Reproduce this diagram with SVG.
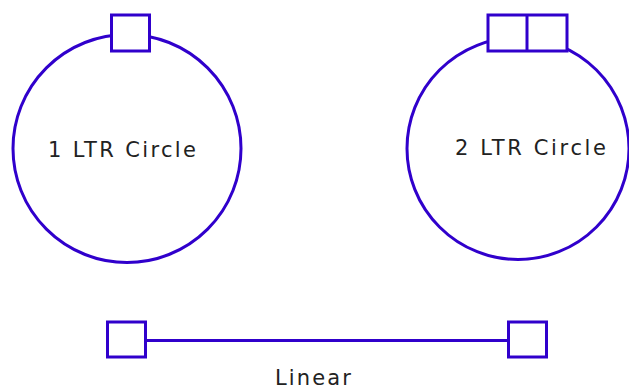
<svg xmlns="http://www.w3.org/2000/svg" width="629" height="390" viewBox="0 0 629 390">
  <style>
    .shape { fill: #ffffff; stroke: #3000cc; stroke-width: 3; }
    .line { fill: none; stroke: #3000cc; stroke-width: 3; }
    .label { font-family: "DejaVu Sans", "Liberation Sans", sans-serif; font-size: 21px; fill: #222222; }
  </style>
  <rect width="629" height="390" fill="#ffffff"/>

  <!-- single-LTR circular form -->
  <g id="circle-1ltr">
    <circle class="shape" cx="127" cy="148.5" r="114"/>
    <rect class="shape" x="111.5" y="15" width="38" height="36"/>
    <text class="label" x="48" y="157" textLength="148" lengthAdjust="spacing">1 LTR Circle</text>
  </g>

  <!-- two-LTR circular form -->
  <g id="circle-2ltr">
    <circle class="shape" cx="518" cy="148.5" r="111"/>
    <rect class="shape" x="488" y="15" width="79" height="36"/>
    <line class="line" x1="527" y1="15" x2="527" y2="51"/>
    <text class="label" x="455" y="155" textLength="151" lengthAdjust="spacing">2 LTR Circle</text>
  </g>

  <!-- linear form -->
  <g id="connectors">
    <line class="line" x1="146" y1="340.5" x2="508" y2="340.5"/>
  </g>
  <g id="linear-left">
    <rect class="shape" x="107.5" y="322" width="38" height="35"/>
  </g>
  <g id="linear-right">
    <rect class="shape" x="508.5" y="322" width="38" height="35"/>
  </g>
  <g id="linear-label">
    <text class="label" x="275" y="385" font-size="20" textLength="76" lengthAdjust="spacing">Linear</text>
  </g>
</svg>
